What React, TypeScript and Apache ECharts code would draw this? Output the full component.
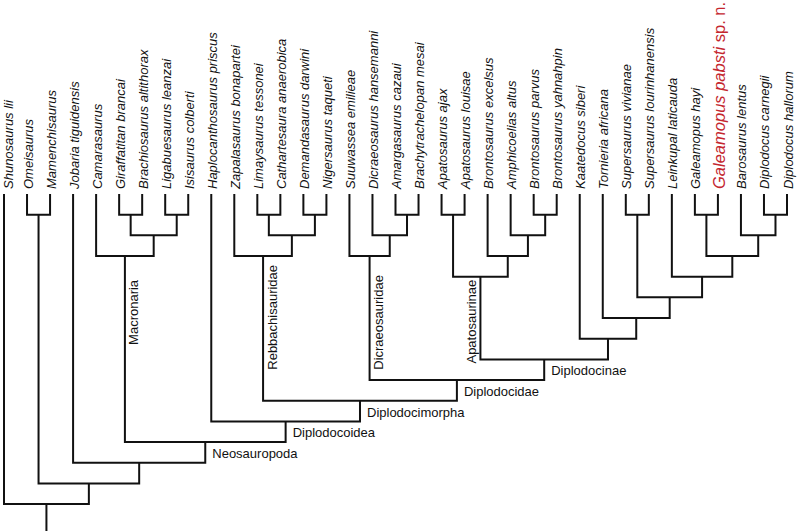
import React, { useEffect, useRef } from 'react';
import * as echarts from 'echarts';

// ---- Data -----------------------------------------------------------------
const taxa: string[] = [
  'Shunosaurus lii', 'Omeisaurus', 'Mamenchisaurus', 'Jobaria tiguidensis', 'Camarasaurus',
  'Giraffatitan brancai', 'Brachiosaurus altithorax', 'Ligabuesaurus leanzai', 'Isisaurus colberti',
  'Haplocanthosaurus priscus', 'Zapalasaurus bonapartei', 'Limaysaurus tessonei',
  'Cathartesaura anaerobica', 'Demandasaurus darwini', 'Nigersaurus taqueti', 'Suuwassea emilieae',
  'Dicraeosaurus hansemanni', 'Amargasaurus cazaui', 'Brachytrachelopan mesai', 'Apatosaurus ajax',
  'Apatosaurus louisae', 'Brontosaurus excelsus', 'Amphicoelias altus', 'Brontosaurus parvus',
  'Brontosaurus yahnahpin', 'Kaatedocus siberi', 'Tornieria africana', 'Supersaurus vivianae',
  'Supersaurus lourinhanensis', 'Leinkupal laticauda', 'Galeamopus hayi', 'Galeamopus pabsti sp. n.',
  'Barosaurus lentus', 'Diplodocus carnegii', 'Diplodocus hallorum',
];
const newTaxon = 'Galeamopus pabsti sp. n.';

// internal node: [id, child A, child B, level above the tips]
const clades: [string, string, string, number][] = [
  ['n1', 'Omeisaurus', 'Mamenchisaurus', 1],
  ['n2', 'Giraffatitan brancai', 'Brachiosaurus altithorax', 1],
  ['n3', 'Ligabuesaurus leanzai', 'Isisaurus colberti', 1],
  ['n4', 'n2', 'n3', 2],
  ['Macronaria', 'Camarasaurus', 'n4', 3],
  ['n5', 'Limaysaurus tessonei', 'Cathartesaura anaerobica', 1],
  ['n6', 'Demandasaurus darwini', 'Nigersaurus taqueti', 1],
  ['n7', 'n5', 'n6', 2],
  ['Rebbachisauridae', 'Zapalasaurus bonapartei', 'n7', 3],
  ['n8', 'Amargasaurus cazaui', 'Brachytrachelopan mesai', 1],
  ['n9', 'Dicraeosaurus hansemanni', 'n8', 2],
  ['Dicraeosauridae', 'Suuwassea emilieae', 'n9', 3],
  ['n10', 'Apatosaurus ajax', 'Apatosaurus louisae', 1],
  ['n11', 'Brontosaurus parvus', 'Brontosaurus yahnahpin', 1],
  ['n12', 'Amphicoelias altus', 'n11', 2],
  ['n13', 'Brontosaurus excelsus', 'n12', 3],
  ['Apatosaurinae', 'n10', 'n13', 4],
  ['n14', 'Supersaurus vivianae', 'Supersaurus lourinhanensis', 1],
  ['n15', 'Galeamopus hayi', 'Galeamopus pabsti sp. n.', 1],
  ['n16', 'Diplodocus carnegii', 'Diplodocus hallorum', 1],
  ['n17', 'Barosaurus lentus', 'n16', 2],
  ['n18', 'n15', 'n17', 3],
  ['n19', 'Leinkupal laticauda', 'n18', 4],
  ['n20', 'n14', 'n19', 5],
  ['n21', 'Tornieria africana', 'n20', 6],
  ['n22', 'Kaatedocus siberi', 'n21', 7],
  ['Diplodocinae', 'Apatosaurinae', 'n22', 8],
  ['Diplodocidae', 'Dicraeosauridae', 'Diplodocinae', 9],
  ['Diplodocimorpha', 'Rebbachisauridae', 'Diplodocidae', 10],
  ['Diplodocoidea', 'Haplocanthosaurus priscus', 'Diplodocimorpha', 11],
  ['Neosauropoda', 'Macronaria', 'Diplodocoidea', 12],
  ['n23', 'Jobaria tiguidensis', 'Neosauropoda', 13],
  ['n24', 'n1', 'n23', 14],
  ['root', 'Shunosaurus lii', 'n24', 15],
];

const horizontalCladeLabels: string[] = [
  'Neosauropoda', 'Diplodocoidea', 'Diplodocimorpha', 'Diplodocidae', 'Diplodocinae',
];
const verticalCladeLabels: string[] = [
  'Macronaria', 'Rebbachisauridae', 'Dicraeosauridae', 'Apatosaurinae',
];

// ---- Layout / style -------------------------------------------------------
const Y_MAX = 16.3;
const INK = '#111111';
const RED = '#c4262e';
const FONT = '"Liberation Sans", Arial, Helvetica, sans-serif';
// where the bottom end of each vertical clade name sits (in levels), and its side
const verticalLabelLayout: Record<string, { bottom: number; side: number }> = {
  Macronaria: { bottom: 7.3, side: 1 },
  Rebbachisauridae: { bottom: 8.5, side: 1 },
  Dicraeosauridae: { bottom: 8.5, side: 1 },
  Apatosaurinae: { bottom: 8.2, side: -1 },
};

// ---- Tree geometry (in data units) ----------------------------------------
const pos: Record<string, { x: number; level: number }> = {};
taxa.forEach((t, i) => { pos[t] = { x: i, level: 0 }; });
clades.forEach(([id, a, b, lv]) => { pos[id] = { x: (pos[a].x + pos[b].x) / 2, level: lv }; });
const parentLevel: Record<string, number> = {};
clades.forEach(([id, a, b, lv]) => { parentLevel[a] = lv; parentLevel[b] = lv; });

export default function App() {
  const ref = useRef<HTMLDivElement>(null);
  useEffect(() => {
    if (!ref.current) return;
    const chart = echarts.init(ref.current, undefined, { renderer: 'svg' });
    const lineStyle = { stroke: INK, lineWidth: 2, fill: 'none', lineJoin: 'miter', lineCap: 'butt' };

    chart.setOption({
      animation: false,
      backgroundColor: '#ffffff',
      grid: { left: 4, right: 10, top: 194, bottom: 0 },
      xAxis: { type: 'value', min: 0, max: taxa.length - 1, show: false },
      yAxis: { type: 'value', min: 0, max: Y_MAX, inverse: true, show: false },
      series: [
        {
          type: 'custom',
          name: 'branches',
          clip: false,
          data: clades.map((c) => [pos[c[0]].x, c[3]]),
          renderItem: (params: any, api: any) => {
            const [id, a, b, lv] = clades[params.dataIndex];
            const pa = api.coord([pos[a].x, pos[a].level]);
            const pA = api.coord([pos[a].x, lv]);
            const pB = api.coord([pos[b].x, lv]);
            const pb = api.coord([pos[b].x, pos[b].level]);
            const children: any[] = [
              { type: 'polyline', shape: { points: [pa, pA, pB, pb] }, style: lineStyle },
            ];
            if (parentLevel[id] === undefined) {
              const top = api.coord([pos[id].x, lv]);
              const bot = api.coord([pos[id].x, Y_MAX]);
              children.push({
                type: 'line',
                shape: { x1: top[0], y1: top[1], x2: bot[0], y2: bot[1] },
                style: lineStyle,
              });
            }
            return { type: 'group', children };
          },
        },
        {
          type: 'custom',
          name: 'taxa',
          clip: false,
          data: taxa.map((t, i) => [i, 0]),
          renderItem: (params: any, api: any) => {
            const name = taxa[params.dataIndex];
            const p = api.coord([params.dataIndex, 0]);
            const isNew = name === newTaxon;
            const style: any = isNew
              ? {
                  text: '{i|Galeamopus pabsti} {n|sp. n.}',
                  x: 0, y: 0,
                  fill: RED,
                  align: 'left',
                  verticalAlign: 'middle',
                  rich: {
                    i: { fontStyle: 'italic', fontSize: 16.5, fontFamily: FONT, fill: RED },
                    n: { fontStyle: 'normal', fontSize: 16.5, fontFamily: FONT, fill: RED },
                  },
                  font: `16.5px ${FONT}`,
                }
              : {
                  text: name,
                  x: 0, y: 0,
                  fill: INK,
                  font: `italic 13px ${FONT}`,
                  align: 'left',
                  verticalAlign: 'middle',
                };
            return {
              type: 'text',
              x: Math.max(p[0] + 1, 8),
              y: p[1] - 5,
              rotation: Math.PI / 2,
              style,
            };
          },
        },
        {
          type: 'custom',
          name: 'cladeNames',
          clip: false,
          data: horizontalCladeLabels.map((c) => [pos[c].x, pos[c].level]),
          renderItem: (params: any, api: any) => {
            const name = horizontalCladeLabels[params.dataIndex];
            const mid = (pos[name].level + parentLevel[name]) / 2;
            const p = api.coord([pos[name].x, mid]);
            return {
              type: 'text',
              x: p[0] + 7,
              y: p[1] + 1,
              style: {
                text: name, x: 0, y: 0, fill: INK, font: `13px ${FONT}`,
                align: 'left', verticalAlign: 'middle',
              },
            };
          },
        },
        {
          type: 'custom',
          name: 'cladeNamesVertical',
          clip: false,
          data: verticalCladeLabels.map((c) => [pos[c].x, pos[c].level]),
          renderItem: (params: any, api: any) => {
            const name = verticalCladeLabels[params.dataIndex];
            const lay = verticalLabelLayout[name];
            const p = api.coord([pos[name].x, lay.bottom]);
            return {
              type: 'text',
              x: p[0] + lay.side * 9,
              y: p[1],
              rotation: Math.PI / 2,
              style: {
                text: name, x: 0, y: 0, fill: INK, font: `13px ${FONT}`,
                align: 'left', verticalAlign: 'middle',
              },
            };
          },
        },
      ],
    });
    return () => chart.dispose();
  }, []);

  return (
    <div
      ref={ref}
      style={{ position: 'fixed', left: 0, top: 0, width: 797, height: 531, background: '#fff' }}
    />
  );
}
